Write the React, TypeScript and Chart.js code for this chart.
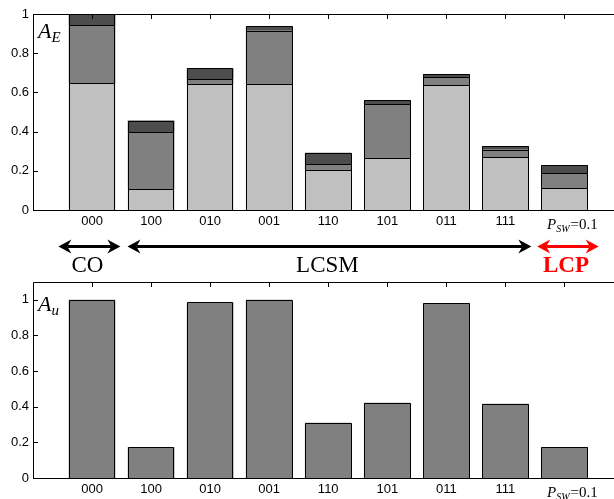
import React, { useEffect, useRef } from 'react';
import { Chart, registerables } from 'chart.js';

Chart.register(...registerables);

// ---------- data ----------
const categories = ['000', '100', '010', '001', '110', '101', '011', '111', 'P_SW=0.1'];
const positions = [1, 2, 3, 4, 5, 6, 7, 8, 9];
const aeLow = [0.646, 0.107, 0.643, 0.643, 0.204, 0.265, 0.638, 0.269, 0.111];
const aeMid = [0.298, 0.289, 0.024, 0.272, 0.029, 0.274, 0.039, 0.039, 0.076];
const aeHigh = [0.056, 0.060, 0.056, 0.022, 0.059, 0.022, 0.017, 0.019, 0.041];
const au = [1.0, 0.174, 0.985, 1.0, 0.31, 0.423, 0.981, 0.417, 0.172];
const yTicks = [0, 0.2, 0.4, 0.6, 0.8, 1];
const regionLabels = ['CO', 'LCSM', 'LCP'];
const regionFrom = [0.43, 1.6, 8.54];
const regionTo = [1.48, 8.44, 9.58];
const regionColors = ['#000000', '#000000', '#ff0000'];

const SANS = '"Liberation Sans", Arial, sans-serif';
const SERIF = '"Liberation Serif", "Times New Roman", serif';

function fmt(v: number) {
  return String(Number(v.toFixed(1)));
}

function drawHead(ctx: CanvasRenderingContext2D, x: number, y: number, dir: number) {
  const len = 13, half = 7, notch = 4;
  ctx.beginPath();
  ctx.moveTo(x, y);
  ctx.lineTo(x - dir * len, y - half);
  ctx.lineTo(x - dir * (len - notch), y);
  ctx.lineTo(x - dir * len, y + half);
  ctx.closePath();
  ctx.fill();
}

function framePlugin(symbol: string, sub: string, symBaseline: number, withArrows: boolean) {
  return {
    id: 'frame',
    afterDatasetsDraw(chart: any) {
      const { ctx, chartArea: a, scales } = chart;
      const xs = scales.x, ys = scales.y;
      ctx.save();
      ctx.strokeStyle = '#000';
      ctx.lineWidth = 1;

      // bar outlines, from the library's bar elements
      ctx.beginPath();
      chart.data.datasets.forEach((_: any, di: number) => {
        const meta = chart.getDatasetMeta(di);
        meta.data.forEach((el: any) => {
          const p = el.getProps(['x', 'y', 'base', 'width'], true);
          const l = Math.round(p.x - p.width / 2) + 0.5;
          const r = Math.round(p.x + p.width / 2) - 0.5;
          const t = Math.round(p.y) + 0.5;
          const b = Math.round(p.base) + 0.5;
          ctx.rect(l, t, r - l, b - t);
        });
      });
      ctx.stroke();

      ctx.beginPath();
      ctx.moveTo(a.right, a.top + 0.5);
      ctx.lineTo(a.left + 0.5, a.top + 0.5);
      ctx.lineTo(a.left + 0.5, a.bottom + 0.5);
      ctx.lineTo(a.right, a.bottom + 0.5);
      for (const v of yTicks) {
        const y = Math.round(ys.getPixelForValue(v)) + 0.5;
        ctx.moveTo(a.left, y);
        ctx.lineTo(a.left + 5, y);
      }
      for (const p of positions) {
        const x = Math.round(xs.getPixelForValue(p)) + 0.5;
        ctx.moveTo(x, a.top);
        ctx.lineTo(x, a.top + 5);
      }
      ctx.stroke();

      // last tick label  P_SW=0.1
      ctx.fillStyle = '#000';
      ctx.textBaseline = 'alphabetic';
      ctx.textAlign = 'left';
      const fBig = `italic 15px ${SERIF}`;
      const fSub = `italic 10px ${SERIF}`;
      const fReg = `15px ${SERIF}`;
      ctx.font = fBig; const w1 = ctx.measureText('P').width;
      ctx.font = fSub; const w2 = ctx.measureText('SW').width;
      ctx.font = fReg; const w3 = ctx.measureText('=0.1').width;
      const cx = xs.getPixelForValue(positions[8]) + 8;
      let x0 = cx - (w1 + w2 + w3 + 1) / 2;
      const bl = a.bottom + 19;
      ctx.font = fBig; ctx.fillText('P', x0, bl); x0 += w1;
      ctx.font = fSub; ctx.fillText('SW', x0, bl + 3); x0 += w2 + 1;
      ctx.font = fReg; ctx.fillText('=0.1', x0, bl);

      // panel symbol
      ctx.font = `italic 22px ${SERIF}`;
      const wa = ctx.measureText(symbol).width;
      ctx.fillText(symbol, a.left + 5, a.top + symBaseline);
      ctx.font = `italic 15px ${SERIF}`;
      ctx.fillText(sub, a.left + 5 + wa, a.top + symBaseline + 4);

      if (withArrows) {
        const ay = 14.5;
        for (let i = 0; i < regionLabels.length; i++) {
          const x1 = xs.getPixelForValue(regionFrom[i]);
          const x2 = xs.getPixelForValue(regionTo[i]);
          ctx.strokeStyle = regionColors[i];
          ctx.fillStyle = regionColors[i];
          ctx.lineWidth = 3;
          ctx.beginPath();
          ctx.moveTo(x1 + 9, ay);
          ctx.lineTo(x2 - 9, ay);
          ctx.stroke();
          drawHead(ctx, x1, ay, -1);
          drawHead(ctx, x2, ay, 1);
          ctx.textAlign = 'center';
          ctx.font = (i === 2 ? 'bold ' : '') + `23px ${SERIF}`;
          ctx.fillText(regionLabels[i], (x1 + x2) / 2 - 2, ay + 25);
        }
      }
      ctx.restore();
    },
  };
}

function makeOptions(yMax: number, xAxisHeight: number, padTop: number) {
  return {
    responsive: false,
    animation: false as const,
    events: [],
    layout: { padding: { top: padTop, left: 0, right: 0, bottom: 0 } },
    plugins: { legend: { display: false }, tooltip: { enabled: false } },
    scales: {
      x: {
        type: 'linear' as const,
        min: 0,
        max: 9.84,
        stacked: true,
        offset: false,
        grid: { display: false, drawTicks: false, offset: false },
        border: { display: false },
        afterFit: (s: any) => { s.height = xAxisHeight; },
        ticks: {
          stepSize: 1,
          autoSkip: false,
          maxRotation: 0,
          includeBounds: false,
          padding: 4,
          color: '#000',
          font: { family: SANS, size: 13 },
          callback: (v: number) => {
            const i = Math.round(v);
            if (Math.abs(v - i) > 1e-6) return '';
            const k = positions.indexOf(i);
            if (k < 0 || k === positions.length - 1) return '';
            return categories[k];
          },
        },
      },
      y: {
        min: 0,
        max: yMax,
        stacked: true,
        grid: { display: false, drawTicks: false },
        border: { display: false },
        afterFit: (s: any) => { s.width = 33; },
        ticks: {
          stepSize: 0.2,
          includeBounds: false,
          padding: 4,
          color: '#000',
          font: { family: SANS, size: 13 },
          callback: (v: number) => fmt(v),
        },
      },
    },
  };
}

const barBase = {
  borderWidth: 0,
  categoryPercentage: 1,
  barPercentage: 0.79,
};

export default function App() {
  const topRef = useRef<HTMLCanvasElement>(null);
  const botRef = useRef<HTMLCanvasElement>(null);

  useEffect(() => {
    const toXY = (arr: number[]) => positions.map((p, i) => ({ x: p, y: arr[i] }));
    const top = new Chart(topRef.current!, {
      type: 'bar',
      data: {
        datasets: [
          { ...barBase, data: toXY(aeLow), backgroundColor: '#c0c0c0' },
          { ...barBase, data: toXY(aeMid), backgroundColor: '#808080' },
          { ...barBase, data: toXY(aeHigh), backgroundColor: '#4d4d4d' },
        ],
      },
      options: makeOptions(1, 22, 14) as any,
      plugins: [framePlugin('A', 'E', 24, false)],
    });
    const bot = new Chart(botRef.current!, {
      type: 'bar',
      data: {
        datasets: [{ ...barBase, data: toXY(au), backgroundColor: '#808080' }],
      },
      options: makeOptions(1.1, 21, 50) as any,
      plugins: [framePlugin('A', 'u', 29, true)],
    });
    return () => {
      top.destroy();
      bot.destroy();
    };
  }, []);

  return (
    <div style={{ position: 'absolute', left: 0, top: 0, width: 614, height: 499, overflow: 'hidden', background: '#fff' }}>
      <canvas ref={topRef} width={614} height={232} style={{ position: 'absolute', left: 0, top: 0, display: 'block' }} />
      <canvas ref={botRef} width={614} height={267} style={{ position: 'absolute', left: 0, top: 232, display: 'block' }} />
    </div>
  );
}
